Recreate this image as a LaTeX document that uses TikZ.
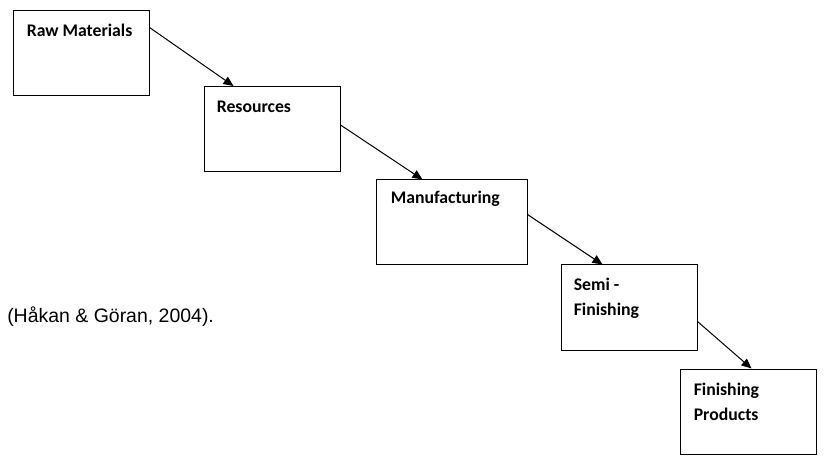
\documentclass[tikz,border=0pt]{standalone}
\usepackage{fontspec}
\newfontfamily\boxfont{Carlito}
\newfontfamily\citefont{Liberation Sans}
\usetikzlibrary{arrows.meta}

\begin{document}
\begin{tikzpicture}[x=0.75pt, y=-0.75pt,
    stage/.style={draw=black, line width=0.75pt, rectangle, inner sep=0pt,
        minimum width=102pt, minimum height=63.75pt},
    stagetext/.style={anchor=base west, inner sep=0pt, align=left,
        font=\boxfont\bfseries\fontsize{13.3}{18.5}\selectfont},
    flow/.style={draw=black, line width=0.75pt,
        -{Triangle[length=7.5pt, width=6.5pt]}}]
    \useasboundingbox (0,0) rectangle (827,466);

    \node[stage] (raw) at (81,53.5)
        [label={[stagetext, shift={(14,26)}]north west:Raw Materials}] {};
    \node[stage] (res) at (272,129)
        [label={[stagetext, shift={(13,27)}]north west:Resources}] {};
    \node[stage, minimum width=113.25pt] (man) at (451.5,222.5)
        [label={[stagetext, shift={(15,24)}]north west:Manufacturing}] {};
    % two lines: base is the last line
    \node[stage] (semi) at (629,307.5)
        [label={[stagetext, shift={(13,51)}]north west:Semi -\\Finishing}] {};
    \node[stage] (fin) at (748,411.5)
        [label={[stagetext, shift={(14,52)}]north west:Finishing\\Products}] {};

    \node[anchor=base west, inner sep=0pt, font=\citefont\fontsize{14.6}{17}\selectfont]
        (cite) at (7,322) {(Håkan \& Göran, 2004).};

    \draw[flow] ([shift={(0,17)}]raw.north east) -- ([shift={(30,0)}]res.north west);
    \draw[flow] ([shift={(0,39)}]res.north east) -- ([shift={(47,0)}]man.north west);
    \draw[flow] ([shift={(0,35)}]man.north east) -- ([shift={(42,0)}]semi.north west);
    \draw[flow] ([shift={(0,57)}]semi.north east) -- ([shift={(72,0)}]fin.north west);
\end{tikzpicture}
\end{document}
